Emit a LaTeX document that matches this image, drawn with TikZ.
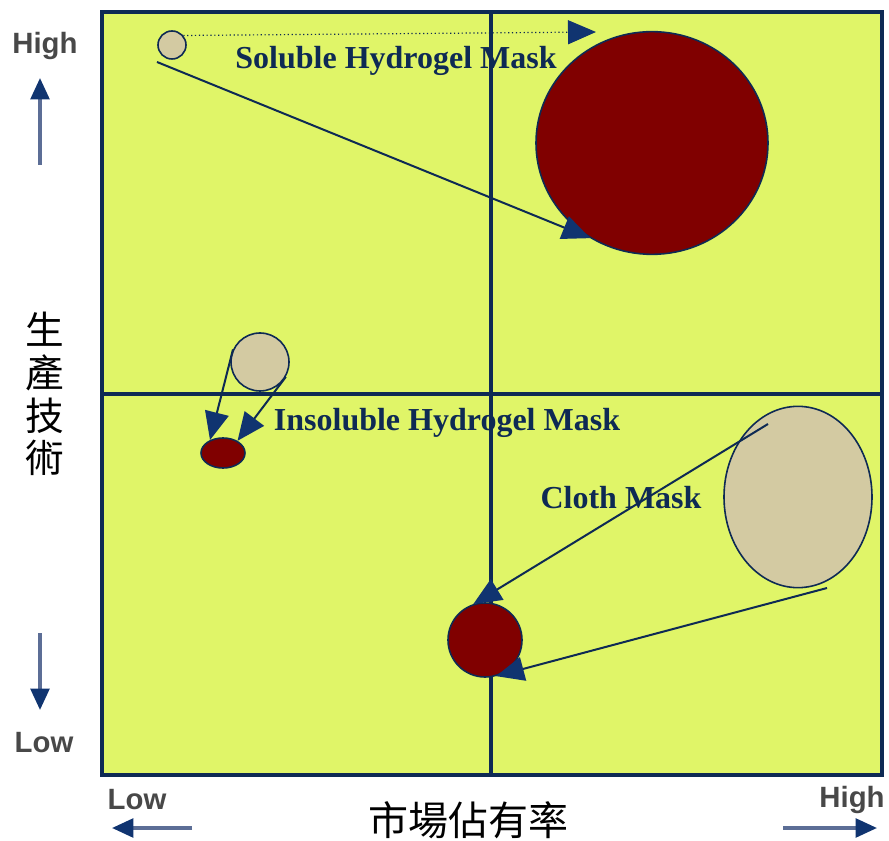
\documentclass[tikz,border=0pt]{standalone}
\usepackage{fontspec}
\setmainfont{Liberation Serif}
\newfontfamily\axisfont{Liberation Sans}
\newfontfamily\cjkfont{Noto Sans CJK TC}
\usetikzlibrary{arrows.meta, shapes.geometric}

\definecolor{chartbg}{RGB}{224,245,104}
\definecolor{navy}{RGB}{14,42,84}
\definecolor{tipblue}{RGB}{16,52,112}
\definecolor{shaftblue}{RGB}{92,110,150}
\definecolor{maskred}{RGB}{128,0,0}
\definecolor{beige}{RGB}{211,202,162}
\definecolor{axisgray}{RGB}{72,72,72}

\tikzset{
  bubble/.style={ellipse, draw=navy, line width=1.2pt, inner sep=0pt},
  oldtech/.style={bubble, fill=beige},
  newtech/.style={bubble, fill=maskred},
  masklabel/.style={font=\bfseries\fontsize{24}{26}\selectfont, text=navy, inner sep=0pt},
  axislabel/.style={font=\axisfont\bfseries\fontsize{22}{24}\selectfont, text=axisgray, inner sep=0pt},
  move/.style={draw=navy, line width=1.5pt, -{Triangle[length=21pt,width=18pt,color=tipblue]}},
  axisarrow/.style={draw=shaftblue, line width=2.6pt, -{Triangle[length=16pt,width=14pt,color=tipblue]}}
}

\begin{document}
\begin{tikzpicture}[x=0.75pt, y=-0.75pt]
    \useasboundingbox (0,0) rectangle (889,841);
    \fill[chartbg] (102,12) rectangle (882,775);

    % labels of the three kinds of mask
    \node[masklabel] (soluble) at (396,61) {Soluble Hydrogel Mask};
    \node[masklabel] (insoluble) at (447,423) {Insoluble Hydrogel Mask};
    \node[masklabel] (cloth) at (621,498) {Cloth Mask};

    % quadrant lines
    \draw[navy, line width=2.4pt] (491,12) -- (491,775);
    \draw[navy, line width=2.4pt] (102,394) -- (882,394);

    % bubbles
    \node[oldtech, minimum width=21pt, minimum height=21pt] (s1) at (172,45) {};
    \node[newtech, minimum width=174pt, minimum height=167pt] (s2) at (652,143) {};
    \node[oldtech, minimum width=43.5pt, minimum height=43.5pt] (i1) at (260,362) {};
    \node[newtech, minimum width=33pt, minimum height=22.5pt] (i2) at (223,453) {};
    \node[oldtech, minimum width=111pt, minimum height=136pt] (c1) at (798,497) {};
    \node[newtech, minimum width=55.5pt, minimum height=55.5pt] (c2) at (485,640) {};

    \coordinate (s1 tail) at (157,62);
    \coordinate (s2 top) at (596,32);
    \coordinate (c1 upper) at (768,424);
    \coordinate (c1 lower) at (827,588);

    % moves
    \draw[move, line width=0.9pt, dotted] (s1.40) -- (s2 top);
    \draw[move] (s1 tail) -- (s2.237);
    \draw[move] (i1.155) -- (i2.135);
    \draw[move] (i1.330) -- (i2.40);
    \draw[move] (c1 upper) -- (c2.108);
    \draw[move] (c1 lower) -- (c2.287);

    \draw[navy, line width=3.2pt] (102,12) rectangle (882,775);

    % axes
    \node[axislabel] (yhigh) at (45,46) {High};
    \node[axislabel] (ylow) at (44,743) {Low};
    \node[axislabel] (xlow) at (137,800) {Low};
    \node[axislabel] (xhigh) at (852,800) {High};
    \coordinate (yup) at (40,165);
    \coordinate (ydown) at (40,633);
    \coordinate (xleft) at (192,828);
    \coordinate (xright) at (783,828);
    \draw[axisarrow] (yup) -- (40,78);
    \draw[axisarrow] (ydown) -- (40,710);
    \draw[axisarrow] (xleft) -- (112,828);
    \draw[axisarrow] (xright) -- (877,828);

    \node[font=\cjkfont\fontsize{29}{32}\selectfont, align=center, inner sep=0pt] (tech) at (45,394) {生\\產\\技\\術};
    \node[font=\cjkfont\fontsize{30}{32}\selectfont, inner sep=0pt] (share) at (468,820) {市場佔有率};
\end{tikzpicture}
\end{document}
